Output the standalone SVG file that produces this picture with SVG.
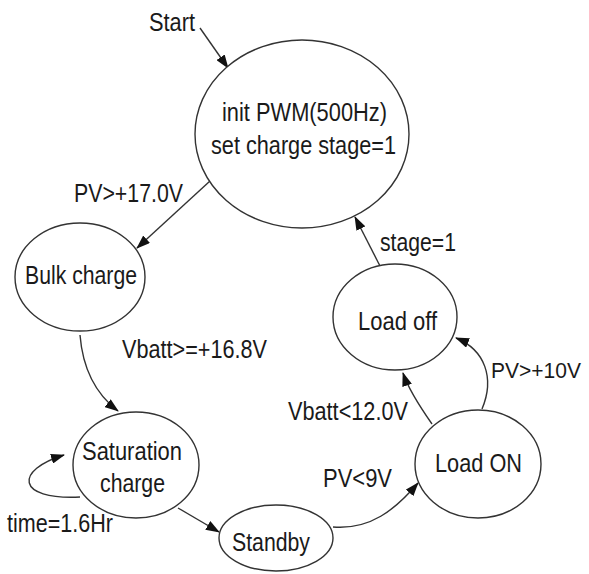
<svg xmlns="http://www.w3.org/2000/svg" width="589" height="574" viewBox="0 0 589 574">
<style>
.n{fill:#fff;stroke:#333;stroke-width:1.4}
.c{fill:none;stroke:#333;stroke-width:1.4;marker-end:url(#ah)}
text{font-family:"Liberation Sans",Arial,sans-serif;font-size:25px;fill:#1a1a1a}
text.s{font-size:22px}
</style>
<defs>
<marker id="ah" viewBox="0 0 14 10" refX="13" refY="5" markerWidth="14" markerHeight="10" markerUnits="userSpaceOnUse" orient="auto">
<path d="M0,0 L14,5 L0,10 Z" fill="#111"/>
</marker>
</defs>
<rect width="589" height="574" fill="#fff"/>
<g id="connectors">
<path class="c" d="M200,28 L228,68"/>
<path class="c" d="M210,181 L137,248"/>
<path class="c" d="M80,335 Q84,385 118,411"/>
<path class="c" d="M80,497 C15,500 15,470 64,455"/>
<path class="c" d="M178,508 L219,532"/>
<path class="c" d="M333,527 C370,530 395,510 418,483"/>
<path class="c" d="M432,424 C418,404 408,388 403,373"/>
<path class="c" d="M482,409 C495,378 485,350 456,338"/>
<path class="c" d="M380,266 L355,217"/>
</g>
<g id="start"><text x="149" y="31" textLength="46" lengthAdjust="spacingAndGlyphs">Start</text></g>
<g id="init">
<ellipse class="n" cx="302" cy="134" rx="107" ry="94"/>
<text x="222" y="121" textLength="165" lengthAdjust="spacingAndGlyphs">init PWM(500Hz)</text>
<text x="211" y="154" textLength="185" lengthAdjust="spacingAndGlyphs">set charge stage=1</text>
</g>
<g id="bulk">
<ellipse class="n" cx="80" cy="277" rx="65" ry="54"/>
<text x="25" y="284" textLength="112" lengthAdjust="spacingAndGlyphs">Bulk charge</text>
</g>
<g id="saturation">
<ellipse class="n" cx="136" cy="465" rx="63" ry="53"/>
<text x="82" y="460" textLength="100" lengthAdjust="spacingAndGlyphs">Saturation</text>
<text x="100" y="492" textLength="65" lengthAdjust="spacingAndGlyphs">charge</text>
</g>
<g id="standby">
<ellipse class="n" cx="276" cy="538" rx="57" ry="33"/>
<text x="232" y="551" textLength="78" lengthAdjust="spacingAndGlyphs">Standby</text>
</g>
<g id="loadon">
<ellipse class="n" cx="478" cy="464" rx="63" ry="54"/>
<text x="435" y="472" textLength="87" lengthAdjust="spacingAndGlyphs">Load ON</text>
</g>
<g id="loadoff">
<ellipse class="n" cx="395" cy="317" rx="62" ry="53"/>
<text x="358" y="330" textLength="79" lengthAdjust="spacingAndGlyphs">Load off</text>
</g>
<g id="labels">
<text x="74" y="202" textLength="109" lengthAdjust="spacingAndGlyphs">PV&gt;+17.0V</text>
<text x="122" y="358" textLength="145" lengthAdjust="spacingAndGlyphs">Vbatt&gt;=+16.8V</text>
<text x="7" y="532" textLength="106" lengthAdjust="spacingAndGlyphs">time=1.6Hr</text>
<text x="323" y="487" textLength="69" lengthAdjust="spacingAndGlyphs">PV&lt;9V</text>
<text x="288" y="420" textLength="120" lengthAdjust="spacingAndGlyphs">Vbatt&lt;12.0V</text>
<text class="s" x="491" y="378" textLength="90" lengthAdjust="spacingAndGlyphs">PV&gt;+10V</text>
<text x="380" y="251" textLength="76" lengthAdjust="spacingAndGlyphs">stage=1</text>
</g>
</svg>
